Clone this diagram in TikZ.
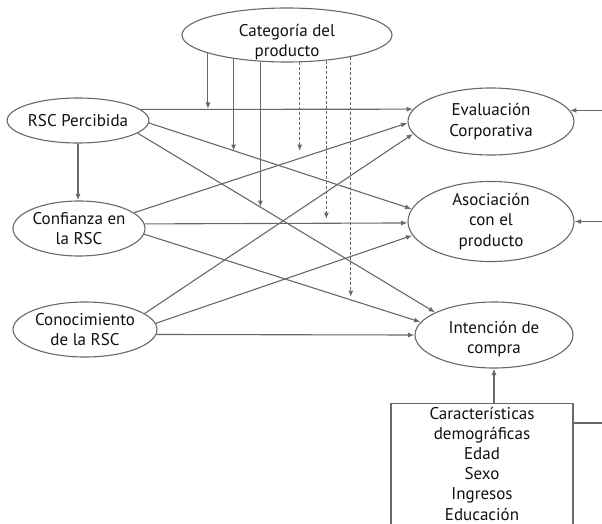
\documentclass[tikz,border=0pt]{standalone}
\usepackage{fontspec}
\setmainfont{PT Sans}
\usetikzlibrary{arrows.meta,shapes.geometric}
\definecolor{linegray}{HTML}{686868}
\definecolor{txt}{HTML}{111111}
\tikzset{
  every node/.style={font=\fontsize{17}{20.5}\selectfont, text=txt},
  oval/.style={ellipse, draw=linegray, line width=1.1pt, inner sep=0pt, align=center},
  demobox/.style={rectangle, draw=linegray, line width=1.1pt, inner sep=0pt, align=center},
  conn/.style={draw=linegray, line width=1.1pt},
  arr/.style={conn, -{Latex[length=6.5pt,width=5pt]}},
  darr/.style={arr, dash pattern=on 3pt off 2pt},
}
\begin{document}
\begin{tikzpicture}[x=1pt,y=-1pt]
\useasboundingbox (0,0) rectangle (602,524);
\clip (0,0) rectangle (602,524);
% nodes
\node[oval, minimum width=210pt, minimum height=54pt,
  label={[align=center, yshift=-7pt]center:Categoría del\\producto}] (cat) at (287,35) {};
\node[oval, minimum width=130pt, minimum height=45pt] (rsc) at (78,120.5) {RSC Percibida};
\node[oval, minimum width=132pt, minimum height=55pt] (conf) at (79,228.5) {Confianza en\\la RSC};
\node[oval, minimum width=144pt, minimum height=55pt] (cono) at (85,329.5) {Conocimiento\\de la RSC};
\node[oval, minimum width=166pt, minimum height=67pt] (eval) at (491,121.5) {Evaluación\\Corporativa};
\node[oval, minimum width=166pt, minimum height=67pt] (asoc) at (491,221.5) {Asociación\\con el\\producto};
\node[oval, minimum width=158pt, minimum height=66pt,
  label={[align=center, yshift=-4pt]center:Intención de\\compra}] (int) at (494,335) {};
\node[demobox, anchor=north, minimum width=182pt, minimum height=130pt,
  label={[align=center, font=\fontsize{17}{20.2}\selectfont, yshift=5pt]center:Características\\demográficas\\Edad\\Sexo\\Ingresos\\Educación}] (box) at (482,403) {};
% free ends
\coordinate (m1) at (209,109);
\coordinate (m2) at (235,151);
\coordinate (m3) at (261,207);
\coordinate (m4) at (300,151);
\coordinate (m5) at (326,219);
\coordinate (m6) at (352,297);
\coordinate (r0) at (615,423);
% RSC Percibida
\draw[arr] (rsc.south) -- (rsc.south |- conf.north);
\draw[arr] (rsc.10.3) -- (eval.171.6);
\draw[arr] (rsc.-2.2) -- (asoc.171.6);
\draw[arr] (rsc.-12.8) -- (int.159.5);
% Confianza
\draw[arr] (conf.16.4) -- (eval.181);
\draw[arr] (conf.4.9) -- (asoc.181);
\draw[arr] (conf.-5.5) -- (int.170.9);
% Conocimiento
\draw[arr] (cono.15.8) -- (eval.189.8);
\draw[arr] (cono.5.2) -- (asoc.190.5);
\draw[arr] (cono.-4.5) -- (int.180);
% Categoria moderations
\draw[arr] (cat.193) -- (cat.193 |- m1);
\draw[arr] (cat.204.3) -- (cat.204.3 |- m2);
\draw[arr] (cat.225.2) -- (cat.225.2 |- m3);
\draw[darr] (cat.295.9) -- (cat.295.9 |- m4);
\draw[darr] (cat.327.2) -- (cat.327.2 |- m5);
\draw[darr] (cat.341.9) -- (cat.341.9 |- m6);
% demographics
\draw[arr] (int.south |- box.north) -- (int.south);
\draw[arr] (r0 -| box.east) -- (r0) -- (eval.8 -| r0) -- (eval.8);
\draw[arr] (asoc.east -| r0) -- (asoc.east);
\end{tikzpicture}
\end{document}
